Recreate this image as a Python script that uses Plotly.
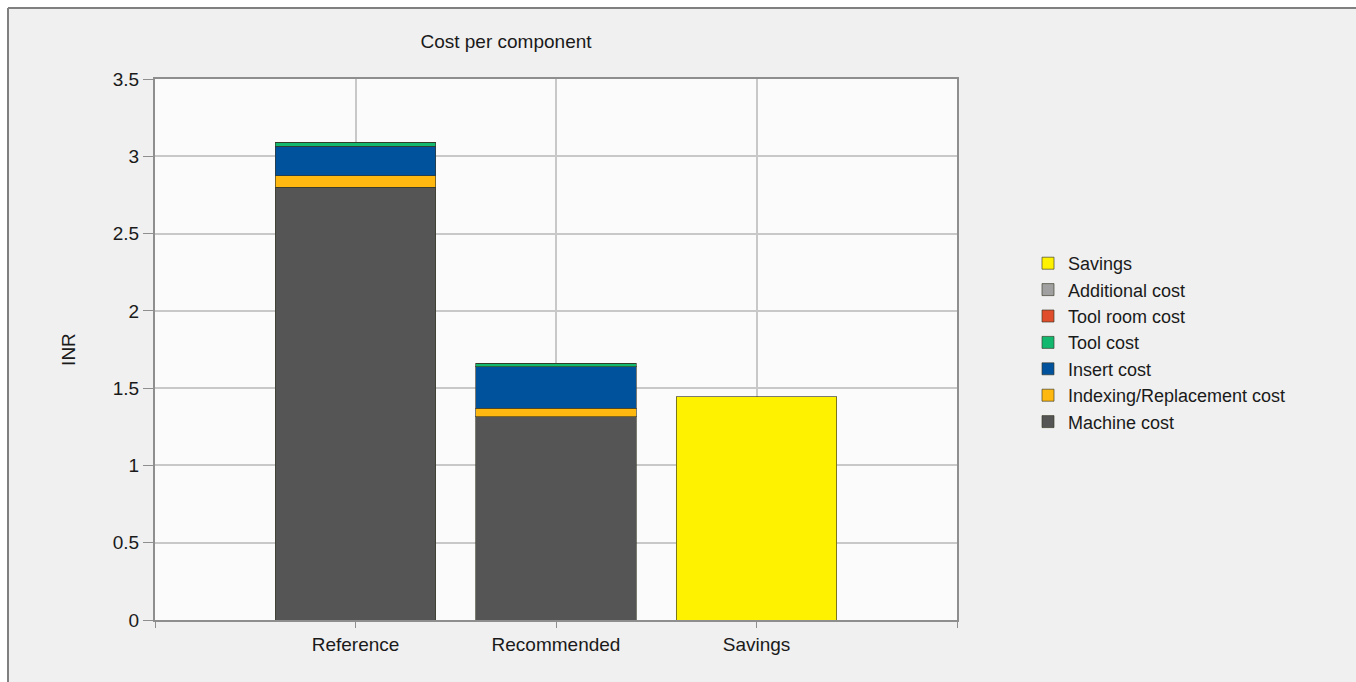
import plotly.graph_objects as go

# ---- data ----
categories = ["Reference", "Recommended", "Savings"]
machine_cost = [2.80, 1.315, None]
indexing_cost = [0.075, 0.055, None]
insert_cost = [0.19, 0.27, None]
tool_cost = [0.025, 0.02, None]
tool_room_cost = [0, 0, None]
additional_cost = [0, 0, None]
savings = [None, None, 1.445]
y_ticks = [0, 0.5, 1, 1.5, 2, 2.5, 3, 3.5]

series = [
    ("Machine cost", machine_cost, "#555555"),
    ("Indexing/Replacement cost", indexing_cost, "#FFB80F"),
    ("Insert cost", insert_cost, "#00529C"),
    ("Tool cost", tool_cost, "#13B86F"),
    ("Tool room cost", tool_room_cost, "#DF4D2B"),
    ("Additional cost", additional_cost, "#A0A0A0"),
    ("Savings", savings, "#FFF200"),
]

xpos = list(range(1, len(categories) + 1))
FONT = "Liberation Sans, Arial, sans-serif"
TXT = "#1a1a1a"

fig = go.Figure()
for name, vals, col in series:
    fig.add_trace(go.Bar(
        x=xpos, y=vals, name=name, width=0.8,
        marker=dict(color=col, line=dict(color="rgba(55,55,40,0.65)", width=1)),
    ))

# pixel -> paper helpers (plot area: x 155..957, y 79..620)
L, R, T, B = 155, 957, 79, 620
def px(x):
    return (x - L) / (R - L)
def py(y):
    return (B - y) / (B - T)

shapes = [
    dict(type="rect", xref="paper", yref="paper", x0=px(0), x1=px(8), y0=py(682), y1=py(0),
         fillcolor="white", line=dict(width=0), layer="below"),
    dict(type="rect", xref="paper", yref="paper", x0=px(0), x1=px(1356), y0=py(8), y1=py(0),
         fillcolor="white", line=dict(width=0), layer="below"),
    dict(type="line", xref="paper", yref="paper", x0=px(8), x1=px(1356), y0=py(8), y1=py(8),
         line=dict(color="#808080", width=2)),
    dict(type="line", xref="paper", yref="paper", x0=px(8), x1=px(8), y0=py(8), y1=py(682),
         line=dict(color="#808080", width=2)),
]

fig.update_layout(
    width=1356, height=682,
    margin=dict(l=L, r=1356 - R, t=T, b=682 - B),
    paper_bgcolor="#F0F0F0",
    plot_bgcolor="#FBFBFB",
    barmode="stack",
    font=dict(family=FONT, size=19, color=TXT),
    title=dict(text="Cost per component", x=506 / 1356, xref="container", xanchor="center",
               y=1 - 41 / 682, yref="container", yanchor="middle",
               font=dict(family=FONT, size=19, color=TXT)),
    showlegend=True,
    legend=dict(x=px(1028), y=py(245), xanchor="left", yanchor="top",
                traceorder="reversed", bgcolor="rgba(0,0,0,0)",
                font=dict(family=FONT, size=18, color=TXT)),
    shapes=shapes,
    xaxis=dict(
        range=[0, len(categories) + 1],
        tickmode="array",
        tickvals=[0] + xpos + [len(categories) + 1],
        ticktext=[""] + categories + [""],
        showgrid=True, gridcolor="#C8C8C8", gridwidth=1.5,
        zeroline=False,
        showline=True, linecolor="#8E8E8E", linewidth=2, mirror=True,
        ticks="outside", ticklen=6, tickcolor="#8E8E8E",
        tickfont=dict(family=FONT, size=19, color=TXT),
    ),
    yaxis=dict(
        range=[0, 3.5],
        tickmode="array", tickvals=y_ticks,
        ticktext=[f"{v:g}" for v in y_ticks],
        showgrid=True, gridcolor="#C8C8C8", gridwidth=1.5,
        zeroline=False,
        showline=True, linecolor="#8E8E8E", linewidth=2, mirror=True,
        ticks="outside", ticklen=10, tickcolor="#8E8E8E",
        tickfont=dict(family=FONT, size=19, color=TXT),
        title=dict(text="INR", standoff=32, font=dict(family=FONT, size=19, color=TXT)),
    ),
)

fig.write_html("out.html")
